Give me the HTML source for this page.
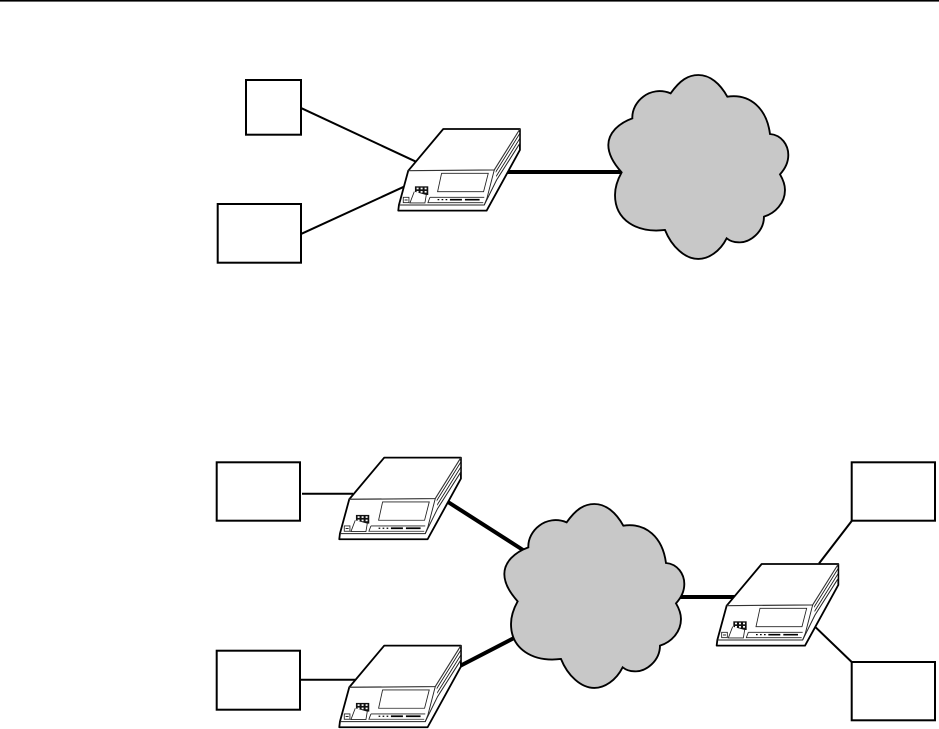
<!DOCTYPE html>
<html>
<head>
<meta charset="utf-8">
<style>
html,body{margin:0;padding:0;background:#fff;width:939px;height:729px;overflow:hidden}
svg{display:block}
</style>
</head>
<body>
<svg width="939" height="729" viewBox="0 0 939 729" xmlns="http://www.w3.org/2000/svg">
<defs>
<pattern id="h" patternUnits="userSpaceOnUse" width="7" height="8" patternTransform="rotate(-58)">
<rect width="7" height="8" fill="#fff"/>
<path d="M0,4 L7,4" stroke="#000" stroke-width="2.4"/>
</pattern>
<path id="cl" d="M212,85 C240,45 265,30 295,30 C330,30 360,55 382,95 C450,85 500,130 510,207 C545,210 565,240 565,270 C565,295 552,315 540,328 C550,345 555,360 555,375 C555,415 525,445 492,455 C492,500 450,535 415,532 C400,532 390,528 380,520 C360,560 325,582 295,582 C255,582 215,545 195,495 C110,505 45,465 45,390 C45,365 55,340 65,322 C45,300 25,270 25,240 C25,205 55,175 97,160 C95,110 150,60 212,85 Z" fill="#c8c8c8" stroke="#000" stroke-width="5.6"/>
<g id="m">
<polygon points="185,342 415,342 415,405 315,587 50,587 52,570 80,467" fill="#fff" stroke="#000" stroke-width="5.4" stroke-linejoin="round"/>
<polygon points="342,467 413,350 413,388 345,495" fill="url(#h)"/>
<path d="M80,467 L338,465 L415,342" fill="none" stroke="#333" stroke-width="3.4"/>
<path d="M52,570 L308,570 L345,495 L413,388" fill="none" stroke="#222" stroke-width="3"/>
<path d="M338,465 L316,550 L308,570" fill="none" stroke="#222" stroke-width="2.8"/>
<path d="M318,580 L415,405" fill="none" stroke="#000" stroke-width="3"/>
<polygon points="180,475 320,475 306,530 168,530" fill="#fff" stroke="#222" stroke-width="2.6"/>
<rect x="100" y="514" width="40" height="26" fill="#111"/>
<g fill="#fff">
<rect x="105" y="518" width="6" height="5"/><rect x="117" y="518" width="6" height="5"/><rect x="129" y="518" width="6" height="5"/>
<rect x="105" y="528" width="6" height="5"/><rect x="117" y="528" width="6" height="5"/><rect x="129" y="528" width="6" height="5"/>
</g>
<path d="M98,530 L85,564 L130,564 L134,540" fill="#fff" stroke="#222" stroke-width="2.6"/>
<rect x="65" y="547" width="17" height="16" fill="#fff" stroke="#222" stroke-width="2.6"/>
<path d="M69,555 L78,555" stroke="#000" stroke-width="2.6"/>
<path d="M145,547 L308,547 M145,547 L139,563 L305,563" fill="none" stroke="#222" stroke-width="2.6"/>
<path d="M168,554 h5 M180,554 h5 M192,554 h5" stroke="#000" stroke-width="3.8"/>
<path d="M205,554 H241 M250,554 H294" stroke="#000" stroke-width="5"/>
</g>
</defs>

<rect x="0" y="0" width="939" height="1.6" fill="#000"/>

<g fill="none" stroke="#000" stroke-width="2">
<line x1="301.7" y1="108.3" x2="416" y2="161.7"/>
<line x1="301.7" y1="233.7" x2="404" y2="186.7"/>
<line x1="302" y1="493.7" x2="353" y2="493.7"/>
<line x1="300" y1="679.7" x2="355" y2="679.7"/>
<line x1="851.7" y1="521" x2="819" y2="563.5"/>
<line x1="815" y1="626.7" x2="851.7" y2="662"/>
<g stroke-width="2">
<rect x="246" y="80" width="55" height="54.7"/>
<rect x="217.7" y="204" width="83.3" height="58.7"/>
<rect x="216.7" y="462.3" width="83.3" height="58.4"/>
<rect x="216.7" y="650.7" width="83.3" height="59"/>
<rect x="851.7" y="462.3" width="83.3" height="58.4"/>
<rect x="851.7" y="662" width="83.3" height="58.3"/>
</g>
</g>

<g fill="none" stroke="#000" stroke-width="4">
<line x1="505" y1="172" x2="624" y2="172"/>
<line x1="448" y1="502" x2="523" y2="550"/>
<line x1="458" y1="667" x2="514" y2="638"/>
<line x1="678" y1="597" x2="735" y2="597"/>
</g>

<use href="#cl" transform="translate(600,65) scale(0.3333)"/>
<use href="#cl" transform="translate(496,494) scale(0.3333)"/>

<use href="#m" transform="translate(381.6,15) scale(0.3333)"/>
<use href="#m" transform="translate(322.6,343.6) scale(0.3333)"/>
<use href="#m" transform="translate(322.6,531.6) scale(0.3333)"/>
<use href="#m" transform="translate(700,450) scale(0.3333)"/>
</svg>
</body>
</html>
